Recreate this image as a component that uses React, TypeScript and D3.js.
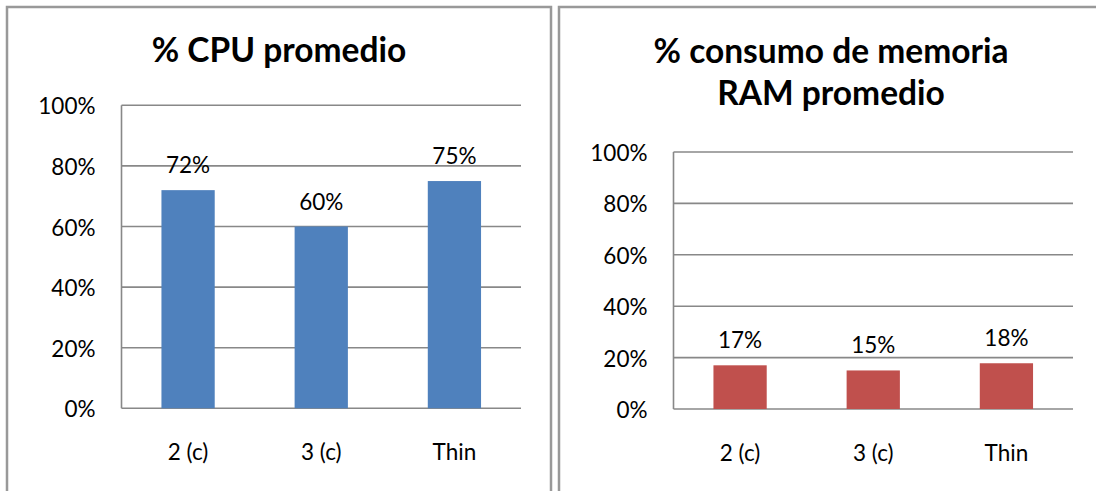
import * as d3 from 'd3';

const categories = ['2 (c)', '3 (c)', 'Thin'];
const cpuValues = [0.72, 0.6, 0.75];
const ramValues = [0.17, 0.15, 0.178];
const yTicks = [0, 0.2, 0.4, 0.6, 0.8, 1];

const W = 1096;
const H = 491;
const FONT = "Lato, 'Open Sans', sans-serif";
const LABEL_SIZE = 22.5;
const pct = d3.format('.0%');

type PanelProps = {
  left: number;
  titleLines: string[];
  titleY: number[];
  values: number[];
  color: string;
  plotTop: number;
  plotBottom: number;
};

const Panel = ({ left, titleLines, titleY, values, color, plotTop, plotBottom }: PanelProps) => {
  const boxW = 544;
  const x0 = left + 114.5;
  const x1 = left + boxW - 30;

  const x = d3.scaleBand<string>().domain(categories).range([x0, x1]).paddingInner(0.6).paddingOuter(0.3);
  const y = d3.scaleLinear().domain([0, 1]).range([plotBottom, plotTop]);

  return (
    <g>
      {/* chart frame */}
      <rect x={left} y={7} width={boxW} height={H + 20} fill='#fff' stroke='#999' strokeWidth={2.5} />
      {titleLines.map((t, i) => (
        <text key={t} x={left + boxW / 2} y={titleY[i]} textAnchor='middle' fontFamily={FONT} fontWeight='bold' fontSize={33.5} fill='#000'>
          {t}
        </text>
      ))}
      {yTicks.map((t) => (
        <g key={t}>
          <line x1={x0} x2={x1} y1={y(t)} y2={y(t)} stroke='#888' strokeWidth={1.6} />
          <text x={x0 - 26} y={y(t) + 9} textAnchor='end' fontFamily={FONT} fontSize={LABEL_SIZE} fill='#000'>
            {pct(t)}
          </text>
        </g>
      ))}
      <line x1={x0} x2={x0} y1={plotTop} y2={plotBottom} stroke='#888' strokeWidth={1.6} />
      {values.map((v, i) => {
        const c = categories[i];
        const cx = (x(c) ?? 0) + x.bandwidth() / 2;
        return (
          <g key={c}>
            <rect x={x(c)} y={y(v)} width={x.bandwidth()} height={y(0) - y(v)} fill={color} />
            <text x={cx} y={y(v) - 17} textAnchor='middle' fontFamily={FONT} fontSize={LABEL_SIZE} fill='#000'>
              {pct(v)}
            </text>
            <text x={cx} y={plotBottom + 52} textAnchor='middle' fontFamily={FONT} fontSize={LABEL_SIZE} fill='#000'>
              {c}
            </text>
          </g>
        );
      })}
    </g>
  );
};

const App = () => {
  return (
    <svg width={W} height={H} style={{ position: 'absolute', left: 0, top: 0, background: '#fff' }}>
      <rect width={W} height={H} fill='#fff' />
      <Panel left={7} titleLines={['% CPU promedio']} titleY={[62]} values={cpuValues} color='#4F81BD' plotTop={105.3} plotBottom={408.3} />
      <Panel
        left={559}
        titleLines={['% consumo de memoria', 'RAM promedio']}
        titleY={[63, 105]}
        values={ramValues}
        color='#C0504D'
        plotTop={152}
        plotBottom={409}
      />
    </svg>
  );
};

export default App;
